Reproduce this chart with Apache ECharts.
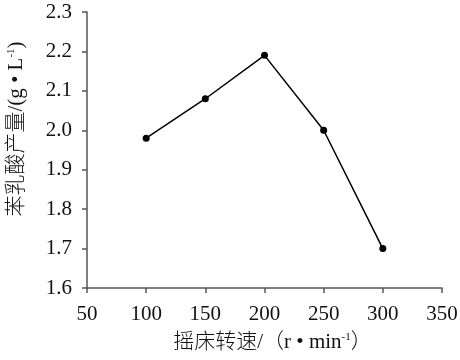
<!DOCTYPE html>
<html><head><meta charset="utf-8">
<script src="https://cdn.jsdelivr.net/npm/echarts@6/dist/echarts.min.js"></script>
<style>html,body{margin:0;padding:0;background:#fff}#c{width:460px;height:360px}</style>
</head><body><div id="c"></div>
<script>
const speeds = [100, 150, 200, 250, 300];
const yields = [1.98, 2.08, 2.19, 2.00, 1.70];
const xTicks = [50, 100, 150, 200, 250, 300, 350];
const yTicks = [1.6, 1.7, 1.8, 1.9, 2.0, 2.1, 2.2, 2.3];

const serif = '"Liberation Serif", "Noto Sans CJK SC", serif';
const chart = echarts.init(document.getElementById('c'));
const axisLine = {lineStyle: {color: '#555', width: 1.5}};
const rich = {
  t: {fontSize: 21, fontFamily: serif, color: '#111', fontWeight: 300},
  s: {fontSize: 11, fontFamily: serif, color: '#111', verticalAlign: 'top', padding: [0, 0, 10, 0]}
};
chart.setOption({
  animation: false,
  grid: {left: 87, right: 18, top: 12, bottom: 72, containLabel: false, outerBoundsMode: 'none'},
  xAxis: {
    type: 'value', min: xTicks[0], max: xTicks[xTicks.length - 1], interval: 50,
    axisLine: axisLine,
    axisTick: {show: true, length: 5, lineStyle: {color: '#555', width: 1.5}},
    splitLine: {show: false},
    axisLabel: {color: '#111', fontSize: 21, fontFamily: serif, margin: 16},
    name: '{t|摇床转速/（r • min}{s|-1}{t|）}',
    nameLocation: 'middle', nameGap: 44,
    nameTextStyle: {rich: rich, padding: [0, 0, 0, 16]}
  },
  yAxis: {
    type: 'value', min: yTicks[0], max: yTicks[yTicks.length - 1], interval: 0.1,
    axisLine: Object.assign({show: true}, axisLine),
    axisTick: {show: true, length: 5, lineStyle: {color: '#555', width: 1.5}},
    splitLine: {show: false},
    axisLabel: {color: '#111', fontSize: 21, fontFamily: serif, margin: 15,
      formatter: v => v.toFixed(1)},
    name: '{t|苯乳酸产量/(g • L}{s|-1}{t|)}',
    nameLocation: 'middle', nameGap: 60, nameRotate: 90,
    nameTextStyle: {rich: rich, padding: [0, 0, 0, 42]}
  },
  series: [{
    type: 'line',
    data: speeds.map((s, i) => [s, yields[i]]),
    symbol: 'circle', symbolSize: 7,
    itemStyle: {color: '#000'},
    lineStyle: {color: '#000', width: 1.5}
  }]
});
</script></body></html>
